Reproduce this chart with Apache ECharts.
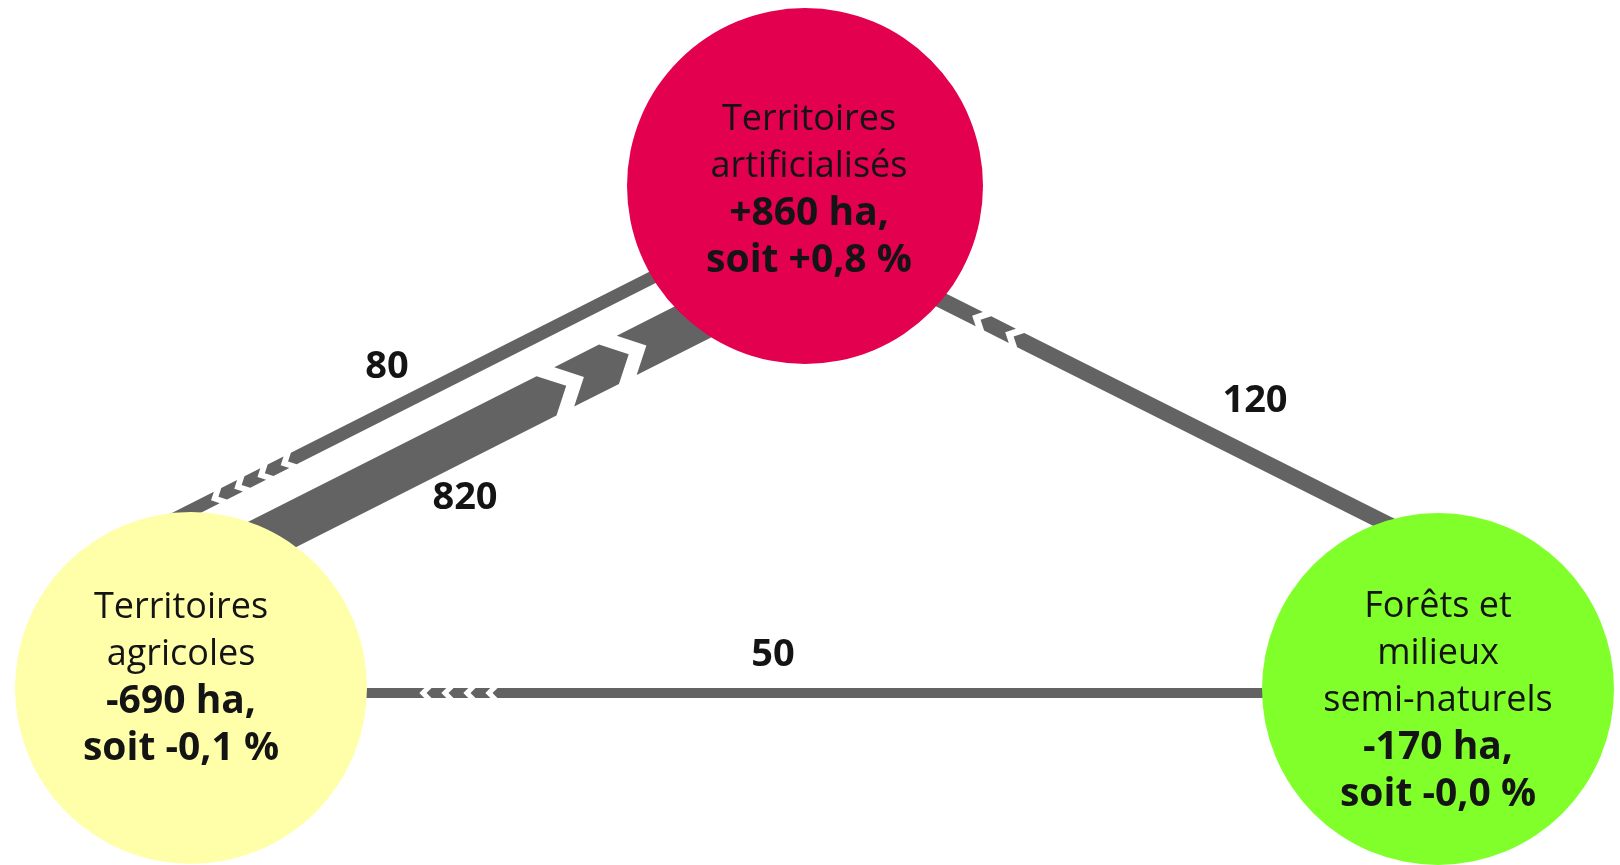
<!DOCTYPE html>
<html><head><meta charset="utf-8">
<script src="https://cdn.jsdelivr.net/npm/echarts/dist/echarts.min.js"></script>
<style>html,body{margin:0;padding:0;background:#fff}#c{width:1620px;height:865px}</style>
</head><body><div id="c"></div>
<script>
// ---------- data ----------
const nodeNames = ['Territoires\nartificialisés', 'Territoires\nagricoles', 'Forêts et\nmilieux\nsemi-naturels'];
const nodeChangeHa = ['+860 ha,', '-690 ha,', '-170 ha,'];
const nodeChangePct = ['soit +0,8 %', 'soit -0,1 %', 'soit -0,0 %'];
const flowSource = [1, 0, 2, 2];
const flowTarget = [0, 1, 0, 1];
const flowValues = [820, 80, 120, 50];

// ---------- layout (diagram units) ----------
const nodeCenter = [[805, 186], [191, 688], [1438, 689]];
const nodeRadius = [178, 176, 176];
const nodeColor = ['#E3004F', '#FFFFAA', '#80FF2B'];
const nodeLabelOffset = [[4, 4], [-10, -10], [0, 12]];
const flowStart = [[230, 555.7], [680, 263.5], [1400, 530.4], [1300, 693]];
const flowEnd = [[720, 308.2], [150, 531.2], [900, 279.4], [300, 693]];
const flowCuts = [[60, 130], [30, 56, 82, 108], [39, 76], [56, 78, 100, 122]];
const flowLabelPos = [[465, 498], [387, 367], [1255, 401], [773, 655]];

const FONT = '"Open Sans", "Noto Sans", sans-serif';
const bandWidth = v => 1.26 * Math.pow(v, 0.53);

function renderFlow(params, api) {
  const i = api.value(0);
  const S = api.coord(flowStart[i]), E = api.coord(flowEnd[i]);
  const dx = E[0] - S[0], dy = E[1] - S[1];
  const L = Math.hypot(dx, dy);
  const d = [dx / L, dy / L], n = [-d[1], d[0]];
  const t = flowTarget[i];
  const C = api.coord(nodeCenter[t]);
  const r = api.size([nodeRadius[t], 0])[0];
  const ox = S[0] - C[0], oy = S[1] - C[1];
  const b = d[0] * ox + d[1] * oy, c = ox * ox + oy * oy - r * r;
  const sEdge = -b - Math.sqrt(Math.max(0, b * b - c));
  const w = api.size([bandWidth(flowValues[i]), 0])[0];
  const h = w / 2, a = 0.5 * w, g = 3.5 + 0.37 * w;
  const cuts = flowCuts[i].map(k => sEdge - k).sort((p, q) => p - q);
  const P = (s, tt) => [S[0] + s * d[0] + tt * n[0], S[1] + s * d[1] + tt * n[1]];
  const children = [];
  let back = null;
  cuts.concat([null]).forEach(cut => {
    const pts = [];
    if (back === null) { pts.push(P(0, h), P(0, -h)); }
    else { pts.push(P(back - a, h), P(back, 0), P(back - a, -h)); }
    if (cut === null) { pts.push(P(L, -h), P(L, h)); }
    else { const f = cut - g / 2; pts.push(P(f - a, -h), P(f, 0), P(f - a, h)); back = cut + g / 2; }
    children.push({ type: 'polygon', shape: { points: pts }, style: { fill: '#636363' } });
  });
  const lp = api.coord(flowLabelPos[i]);
  children.push({
    type: 'text', z2: 10,
    style: { text: String(flowValues[i]), x: lp[0], y: lp[1], align: 'center', verticalAlign: 'middle',
      fill: '#141414', font: 'bold 38px ' + FONT }
  });
  return { type: 'group', children };
}

function renderNode(params, api) {
  const i = api.value(0);
  const C = api.coord(nodeCenter[i]);
  const r = api.size([nodeRadius[i], 0])[0];
  const lines = nodeNames[i].split('\n').map(s => '{n|' + s + '}');
  lines.push('{b|' + nodeChangeHa[i] + '}', '{b|' + nodeChangePct[i] + '}');
  return {
    type: 'group',
    children: [
      { type: 'circle', shape: { cx: C[0], cy: C[1], r }, style: { fill: nodeColor[i] } },
      { type: 'text', style: {
          text: lines.join('\n'), x: C[0] + nodeLabelOffset[i][0], y: C[1] + nodeLabelOffset[i][1],
          align: 'center', verticalAlign: 'middle', fill: '#141414',
          rich: {
            n: { fontFamily: FONT, fontSize: 36, fontWeight: 'normal', lineHeight: 47, fill: '#141414', align: 'center' },
            b: { fontFamily: FONT, fontSize: 39, fontWeight: 'bold', lineHeight: 47, fill: '#141414', align: 'center' }
          }
        } }
    ]
  };
}

const chart = echarts.init(document.getElementById('c'));
chart.setOption({
  animation: false,
  backgroundColor: '#ffffff',
  grid: { left: 0, right: 0, top: 0, bottom: 0 },
  xAxis: { type: 'value', min: 0, max: 1620, show: false },
  yAxis: { type: 'value', min: 0, max: 865, inverse: true, show: false },
  series: [
    { type: 'custom', z: 1, renderItem: renderFlow, data: flowValues.map((v, i) => [i, v]), silent: true },
    { type: 'custom', z: 2, renderItem: renderNode, data: nodeNames.map((s, i) => [i, 0]), silent: true }
  ]
});
</script></body></html>
